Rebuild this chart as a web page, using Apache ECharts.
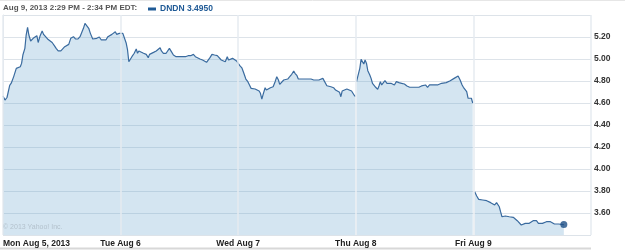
<!DOCTYPE html>
<html>
<head>
<meta charset="utf-8">
<script src="https://cdn.jsdelivr.net/npm/echarts@6/dist/echarts.min.js"></script>
<style>html,body{margin:0;padding:0;background:#fff}#c{width:625px;height:251px}</style>
</head>
<body>
<div id="c"></div>
<script>
// Axis labels
const dayLabels = ["Mon Aug 5, 2013", "Tue Aug 6", "Wed Aug 7", "Thu Aug 8", "Fri Aug 9"];
const headerText = "Aug 9, 2013 2:29 PM - 2:34 PM EDT:";
const legendText = "DNDN 3.4950";
const yTicks = [3.4, 5.4, 0.2];

// Positions in trading days (0 = Mon open), prices in USD
const monX = [0,.017,.034,.057,.070,.091,.113,.127,.147,.158,.169,.186,.197,.209,.220,.235,.248,.263,.277,.288,.299,.316,.333,.345,.362,.379,.396,.418,.438,.452,.469,.492,.508,.525,.542,.559,.576,.587,.599,.616,.638,.655,.672,.684,.697,.712,.729,.743,.763,.780,.797,.819,.836,.853,.875,.892,.909,.926,.943,.955,.966,.989];
const monY = [4.664,4.627,4.65,4.76,4.78,4.84,4.915,4.93,4.93,4.96,5.036,5.097,5.218,5.288,5.218,5.164,5.173,5.194,5.182,5.212,5.15,5.212,5.255,5.224,5.218,5.182,5.164,5.15,5.12,5.097,5.073,5.073,5.073,5.112,5.127,5.133,5.188,5.173,5.203,5.182,5.182,5.203,5.248,5.279,5.324,5.309,5.279,5.233,5.182,5.182,5.188,5.20,5.173,5.164,5.173,5.203,5.212,5.224,5.233,5.248,5.224,5.233];
const tueX = [1.0,1.019,1.031,1.048,1.059,1.070,1.082,1.096,1.116,1.133,1.144,1.155,1.172,1.195,1.218,1.235,1.246,1.263,1.280,1.303,1.319,1.336,1.347,1.364,1.387,1.404,1.415,1.432,1.449,1.472,1.494,1.517,1.534,1.551,1.574,1.596,1.619,1.636,1.653,1.675,1.697,1.714,1.731,1.743,1.760,1.777,1.799,1.822,1.839,1.856,1.873,1.890,1.907,1.918,1.935,1.952,1.969,1.986];
const tueY = [5.224,5.233,5.218,5.143,5.082,4.975,4.96,5.021,5.052,5.091,5.052,5.073,5.06,5.052,5.042,5.012,5.042,5.03,5.06,5.073,5.082,5.103,5.073,5.052,5.052,5.06,5.097,5.067,5.036,5.021,5.021,5.021,5.036,5.021,5.03,5.03,5.042,5.021,5.006,5.00,4.991,4.982,4.97,4.96,5.012,5.042,5.036,5.03,5.012,4.991,4.975,4.975,5.021,4.991,4.975,5.006,5.00,4.982];
const wedX = [2.0,2.014,2.031,2.048,2.065,2.082,2.099,2.110,2.127,2.144,2.161,2.178,2.189,2.201,2.212,2.229,2.240,2.257,2.274,2.297,2.314,2.328,2.342,2.353,2.370,2.387,2.404,2.421,2.438,2.455,2.472,2.483,2.500,2.511,2.528,2.551,2.574,2.596,2.619,2.642,2.664,2.686,2.703,2.720,2.737,2.754,2.771,2.788,2.811,2.828,2.845,2.862,2.873,2.884,2.901,2.924,2.941,2.964,2.981,2.997];
const wedY = [4.975,4.94,4.92,4.87,4.818,4.794,4.757,4.733,4.727,4.727,4.718,4.709,4.688,4.636,4.679,4.739,4.718,4.709,4.739,4.748,4.794,4.839,4.809,4.77,4.788,4.809,4.80,4.818,4.839,4.861,4.891,4.87,4.848,4.818,4.824,4.818,4.818,4.818,4.818,4.809,4.809,4.809,4.818,4.824,4.809,4.757,4.739,4.748,4.739,4.718,4.709,4.697,4.657,4.709,4.727,4.727,4.718,4.709,4.679,4.657];
const thuX = [3.006,3.023,3.034,3.045,3.057,3.068,3.079,3.091,3.102,3.119,3.130,3.142,3.158,3.169,3.186,3.197,3.209,3.220,3.237,3.248,3.265,3.282,3.299,3.316,3.328,3.345,3.367,3.390,3.413,3.435,3.458,3.475,3.492,3.514,3.536,3.559,3.576,3.593,3.610,3.627,3.644,3.661,3.678,3.695,3.712,3.729,3.746,3.769,3.786,3.803,3.819,3.836,3.853,3.870,3.887,3.904,3.915,3.932,3.943,3.955,3.972,3.983,3.994];
const thuY = [4.794,4.803,4.915,4.997,4.985,4.955,4.991,4.96,4.894,4.855,4.824,4.779,4.764,4.743,4.724,4.755,4.794,4.764,4.779,4.803,4.779,4.785,4.779,4.785,4.764,4.794,4.785,4.779,4.773,4.755,4.743,4.733,4.743,4.743,4.743,4.755,4.773,4.764,4.743,4.764,4.779,4.764,4.755,4.764,4.773,4.779,4.773,4.785,4.803,4.803,4.815,4.824,4.839,4.845,4.809,4.764,4.743,4.748,4.703,4.643,4.627,4.643,4.6];
const friX = [4.011,4.028,4.045,4.062,4.079,4.096,4.113,4.130,4.147,4.164,4.181,4.197,4.209,4.220,4.231,4.243,4.254,4.271,4.288,4.305,4.322,4.339,4.356,4.373,4.390,4.407,4.424,4.441,4.458,4.475,4.492,4.508,4.525,4.536,4.553,4.570,4.587,4.604,4.621,4.638,4.655,4.672,4.689,4.706,4.723,4.740,4.769];
const friY = [3.794,3.755,3.724,3.724,3.718,3.703,3.712,3.703,3.694,3.682,3.673,3.694,3.682,3.657,3.612,3.566,3.582,3.573,3.573,3.566,3.573,3.561,3.543,3.53,3.512,3.491,3.50,3.506,3.512,3.506,3.521,3.53,3.543,3.53,3.506,3.50,3.506,3.512,3.521,3.53,3.521,3.506,3.50,3.50,3.50,3.50,3.495];

const zip = (xs, ys) => xs.map((x, i) => [x, ys[i]]);
const seg1 = zip(monX, monY).concat(zip(tueX, tueY), zip(wedX, wedY));
const seg2 = zip(thuX, thuY);
const seg3 = zip(friX, friY);
const lastPt = seg3[seg3.length - 1];

const lineColor = '#3a6b9f';
const areaColor = 'rgba(100,160,205,0.28)';
const lblFont = '"Liberation Sans", Arial, sans-serif';

function lineSeries(data) {
  return {
    type: 'line', data: data, showSymbol: false, symbol: 'none',
    lineStyle: { color: lineColor, width: 1.2 },
    areaStyle: { color: areaColor, origin: 'start', opacity: 1 },
    z: 2, animation: false
  };
}

const chart = echarts.init(document.getElementById('c'), null, { renderer: 'canvas' });
chart.setOption({
  animation: false,
  grid: { left: 0, right: 34, top: 15, bottom: 16 },
  xAxis: {
    type: 'value', min: 0, max: 5, interval: 1, z: 3,
    axisLine: { show: false }, axisTick: { show: false },
    splitLine: { show: true, lineStyle: { color: '#e6ebf0', width: 1.5 } },
    axisLabel: {
      margin: 4, fontSize: 8.5, fontWeight: 'bold', color: '#222', fontFamily: lblFont,
      alignMinLabel: 'left',
      formatter: v => (v < dayLabels.length ? dayLabels[v] : '')
    }
  },
  yAxis: {
    type: 'value', position: 'right', min: yTicks[0], max: yTicks[1], interval: yTicks[2],
    axisLine: { show: true, lineStyle: { color: '#dde3e9' } }, axisTick: { show: false },
    splitLine: { show: true, lineStyle: { color: '#dde3e9', width: 1 } },
    axisLabel: {
      margin: 3, fontSize: 8.5, fontWeight: 'bold', color: '#333', fontFamily: lblFont,
      formatter: v => (v <= yTicks[0] + 0.01 || v >= yTicks[1] - 0.01) ? '' : v.toFixed(2)
    }
  },
  series: [
    lineSeries(seg1), lineSeries(seg2), lineSeries(seg3),
    { type: 'scatter', data: [lastPt], symbolSize: 7, itemStyle: { color: '#1d4f86' }, z: 4, animation: false }
  ],
  graphic: [
    { type: 'line', shape: { x1: 0, y1: 0.5, x2: 625, y2: 0.5 }, style: { stroke: '#e6e6e6', lineWidth: 1 } },
    { type: 'text', left: 3, top: 4, style: { text: headerText, font: 'bold 8px ' + lblFont, fill: '#555' } },
    { type: 'rect', shape: { x: 148, y: 7.5, width: 8, height: 3 }, style: { fill: '#1f5a96' } },
    { type: 'text', left: 160, top: 4, style: { text: legendText, font: 'bold 8.5px ' + lblFont, fill: '#1f5a96' } },
    { type: 'text', left: 3, top: 224, z: 5, style: { text: '© 2013 Yahoo! Inc.', font: '7px ' + lblFont, fill: '#b4c2cd' } },
    { type: 'line', shape: { x1: 0, y1: 248.5, x2: 591, y2: 248.5 }, style: { stroke: '#d8d8d8', lineWidth: 2 } }
  ]
});
</script>
</body>
</html>
